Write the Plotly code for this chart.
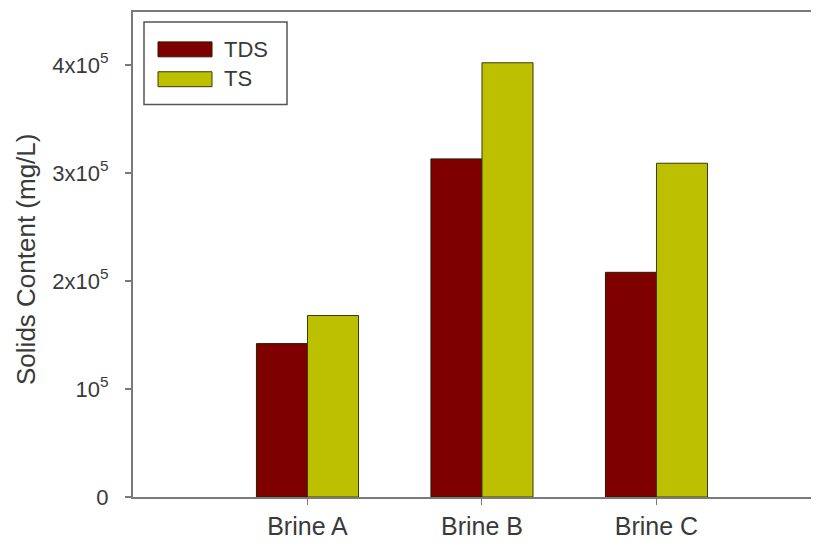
import plotly.graph_objects as go

categories = ["Brine A", "Brine B", "Brine C"]
tds = [142000, 313000, 208000]
ts = [168000, 402000, 309000]
series_names = ["TDS", "TS"]
tick_vals = [0, 100000, 200000, 300000, 400000]
tick_text = ["0", "10<sup>5</sup>", "2x10<sup>5</sup>", "3x10<sup>5</sup>", "4x10<sup>5</sup>"]
y_title = "Solids Content (mg/L)"

c_tds = "#7f0000"
c_ts = "#bcc000"
font_c = "#3a3a3a"
axis_c = "#7a7a7a"

fig = go.Figure()
fig.add_trace(go.Bar(x=categories, y=tds, name=series_names[0],
                     marker=dict(color=c_tds, line=dict(color="#2a1a00", width=1)),
                     showlegend=False))
fig.add_trace(go.Bar(x=categories, y=ts, name=series_names[1],
                     marker=dict(color=c_ts, line=dict(color="#3a3a10", width=1)),
                     showlegend=False))

# page offset (body margin) compensation
OFF = 8
W, H = 819 - OFF, 546 - OFF
L, R, T, B = 133 - OFF, 2, 10 - OFF, 546 - 497
pw, ph = W - L - R, H - T - B


def px(x):
    return (x - OFF - L) / pw


def py(y):
    return (H - B - (y - OFF)) / ph


shapes = [
    dict(type="line", xref="paper", yref="paper", x0=1, x1=1, y0=0, y1=1,
         line=dict(color="#d8d8d8", width=1.5)),
    dict(type="rect", xref="paper", yref="paper", x0=px(144), x1=px(287), y0=py(103), y1=py(20),
         line=dict(color="#555555", width=1.5), fillcolor="white"),
    dict(type="rect", xref="paper", yref="paper", x0=px(158), x1=px(212), y0=py(55), y1=py(40),
         line=dict(color="#2a1a00", width=1), fillcolor=c_tds),
    dict(type="rect", xref="paper", yref="paper", x0=px(158), x1=px(212), y0=py(85), y1=py(70),
         line=dict(color="#3a3a10", width=1), fillcolor=c_ts),
]
annotations = [
    dict(xref="paper", yref="paper", x=px(222), y=py(47.5), text=series_names[0], showarrow=False,
         xanchor="left", yanchor="middle", font=dict(size=22, color=font_c)),
    dict(xref="paper", yref="paper", x=px(222), y=py(77), text=series_names[1], showarrow=False,
         xanchor="left", yanchor="middle", font=dict(size=22, color=font_c)),
    dict(xref="paper", yref="paper", x=px(26), y=py(259), text=y_title, showarrow=False,
         textangle=-90, xanchor="center", yanchor="middle", font=dict(size=26, color=font_c)),
]

fig.update_layout(
    width=W, height=H,
    margin=dict(l=L, r=R, t=T, b=B),
    paper_bgcolor="white", plot_bgcolor="white",
    font=dict(family="Liberation Sans, Arial, sans-serif", size=15, color=font_c),
    barmode="group", bargap=0.415, bargroupgap=0,
    shapes=shapes, annotations=annotations,
    xaxis=dict(range=[-1, 2.92], showgrid=False, zeroline=False,
               showline=True, linecolor=axis_c, linewidth=2, mirror=True,
               ticks="outside", ticklen=6, tickcolor=axis_c, tickwidth=1,
               tickfont=dict(size=25, color=font_c)),
    yaxis=dict(range=[0, 449000], showgrid=False, zeroline=False,
               showline=True, linecolor=axis_c, linewidth=2, mirror=False,
               ticks="outside", ticklen=6, tickcolor=axis_c, tickwidth=2,
               tickvals=tick_vals, ticktext=tick_text, ticklabelstandoff=12,
               tickfont=dict(size=22, color=font_c)),
)

fig.write_html("out.html")
